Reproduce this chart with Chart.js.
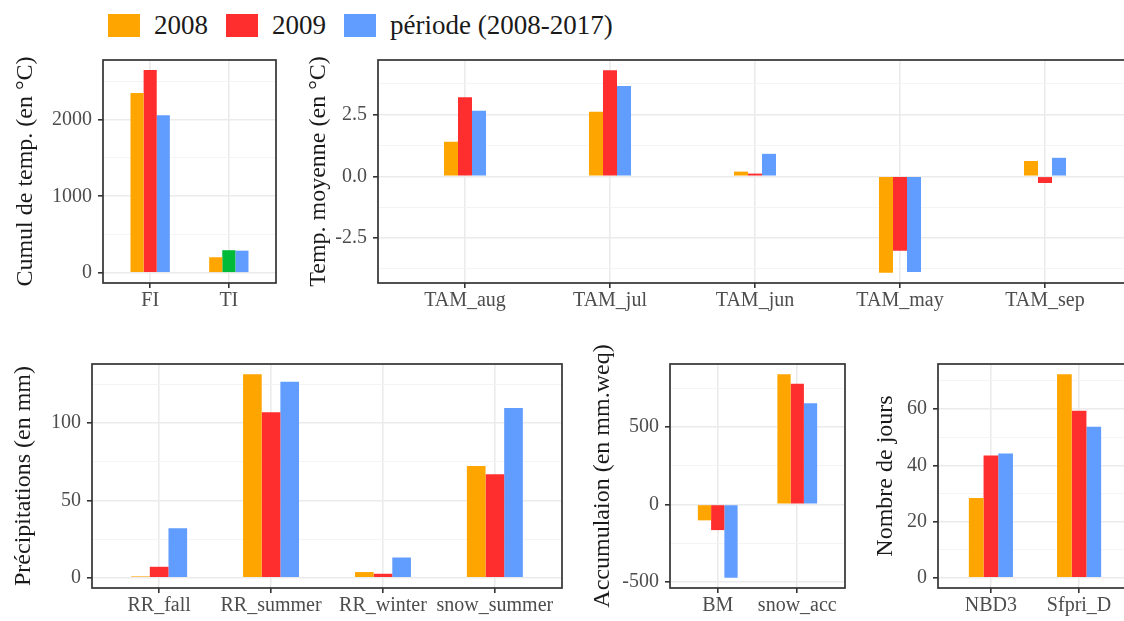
<!DOCTYPE html>
<html>
<head>
<meta charset="utf-8">
<script src="https://cdn.jsdelivr.net/npm/chart.js@4"></script>
<style>
  body { margin: 0; background: #fff; width: 1124px; height: 621px; overflow: hidden; position: relative; font-family: 'Liberation Serif', serif; }
  canvas { position: absolute; left: 0; top: 0; }
  #legend { position: absolute; left: 108px; top: 10px; display: flex; align-items: center; font-size: 27px; color: #1A1A1A; }
  #legend .key { width: 32px; height: 23px; margin-right: 14px; }
  #legend .lab { margin-right: 18px; }
</style>
</head>
<body>
<div id="legend"></div>
<canvas id="cumul" width="1200" height="621"></canvas>
<canvas id="tmoy" width="1200" height="621"></canvas>
<canvas id="precip" width="1200" height="621"></canvas>
<canvas id="accu" width="1200" height="621"></canvas>
<canvas id="jours" width="1200" height="621"></canvas>
<script>
// series
const seriesNames = ['2008', '2009', 'période (2008-2017)'];
const seriesColors = ['#FFA500', '#FF2E2E', '#619CFF'];
const highlightColor = '#00BA38';

// cumul de température
const cumulCats = ['FI', 'TI'];
const cumul2008 = [2347, 204];
const cumul2009 = [2646, 296];
const cumulPeriode = [2056, 290];
const cumulTicks = [0, 1000, 2000];
const cumulTickLabels = ['0', '1000', '2000'];

// température moyenne
const tmoyCats = ['TAM_aug', 'TAM_jul', 'TAM_jun', 'TAM_may', 'TAM_sep'];
const tmoy2008 = [1.40, 2.61, 0.19, -3.91, 0.62];
const tmoy2009 = [3.20, 4.30, 0.11, -3.01, -0.27];
const tmoyPeriode = [2.65, 3.66, 0.91, -3.87, 0.75];
const tmoyTicks = [-2.5, 0, 2.5];
const tmoyTickLabels = ['-2.5', '0.0', '2.5'];

// précipitations
const precipCats = ['RR_fall', 'RR_summer', 'RR_winter', 'snow_summer'];
const precip2008 = [0.9, 131.5, 3.7, 72.2];
const precip2009 = [7.1, 106.9, 2.6, 66.8];
const precipPeriode = [32.0, 126.7, 13.1, 109.7];
const precipTicks = [0, 50, 100];
const precipTickLabels = ['0', '50', '100'];

// accumulation
const accuCats = ['BM', 'snow_acc'];
const accu2008 = [-103, 841];
const accu2009 = [-166, 779];
const accuPeriode = [-474, 654];
const accuTicks = [-500, 0, 500];
const accuTickLabels = ['-500', '0', '500'];

// nombre de jours
const joursCats = ['NBD3', 'Sfpri_D'];
const jours2008 = [28.4, 72.4];
const jours2009 = [43.5, 59.4];
const joursPeriode = [44.2, 53.7];
const joursTicks = [0, 20, 40, 60];
const joursTickLabels = ['0', '20', '40', '60'];

const FONT = "'Liberation Serif', serif";
Chart.defaults.font.family = FONT;

// legend
const legend = document.getElementById('legend');
seriesNames.forEach((name, i) => {
    const k = document.createElement('span');
    k.className = 'key';
    k.style.background = seriesColors[i];
    const t = document.createElement('span');
    t.className = 'lab';
    t.textContent = name;
    legend.appendChild(k);
    legend.appendChild(t);
});

const panelBorder = {
    id: 'panelBorder',
    afterDraw(chart) {
        const { ctx, chartArea: a } = chart;
        ctx.save();
        ctx.strokeStyle = '#333333';
        ctx.lineWidth = 1.7;
        ctx.strokeRect(a.left, a.top, a.right - a.left, a.bottom - a.top);
        ctx.restore();
    }
};

function makePanel(id, cats, values, o) {
    const canvas = document.getElementById(id);
    const W = canvas.width, H = canvas.height;
    const step = o.ticks[1] - o.ticks[0];
    // major + minor breaks, as ggplot
    const breaks = [];
    for (let v = o.ticks[0] - step / 2; v <= o.max; v += step / 2) {
        if (v >= o.min) breaks.push(v);
    }
    const isMajor = v => o.ticks.some(t => Math.abs(t - v) < 1e-9);
    const axisLeft = o.titleX - 14.4;

    const datasets = values.map((vals, s) => ({
        label: seriesNames[s],
        data: vals.map((v, i) => ({ x: i + 1, y: v })),
        backgroundColor: vals.map((v, i) => (o.highlight && o.highlight[0] === s && o.highlight[1] === i) ? highlightColor : seriesColors[s]),
        borderWidth: 0,
        barPercentage: 1,
        categoryPercentage: o.groupWidth
    }));

    return new Chart(canvas, {
        type: 'bar',
        data: { datasets },
        options: {
            responsive: false,
            animation: false,
            layout: {
                autoPadding: false,
                padding: { left: axisLeft, top: o.box.top, right: W - o.box.right, bottom: H - o.box.bottom - 30 }
            },
            plugins: { legend: { display: false }, tooltip: { enabled: false } },
            scales: {
                x: {
                    type: 'linear',
                    min: 0.4,
                    max: cats.length + 0.6,
                    offset: false,
                    afterBuildTicks: s => { s.ticks = cats.map((c, i) => ({ value: i + 1 })); },
                    afterFit: s => { s.height = 30; s.paddingLeft = 0; s.paddingRight = 0; },
                    ticks: {
                        callback: v => cats[Math.round(v) - 1],
                        color: '#4D4D4D',
                        font: { size: 20 },
                        padding: 1,
                        maxRotation: 0,
                        autoSkip: false
                    },
                    grid: { offset: false, color: '#EBEBEB', lineWidth: 1.6, tickLength: 5, tickColor: '#333333', tickWidth: 1.6 },
                    border: { display: false }
                },
                y: {
                    type: 'linear',
                    min: o.min,
                    max: o.max,
                    afterBuildTicks: s => { s.ticks = breaks.map(v => ({ value: v })); },
                    afterFit: s => { s.width = o.box.left - axisLeft; s.paddingTop = 0; s.paddingBottom = 0; },
                    ticks: {
                        callback: v => {
                            const k = o.ticks.findIndex(t => Math.abs(t - v) < 1e-9);
                            return k >= 0 ? o.labels[k] : '';
                        },
                        color: '#4D4D4D',
                        font: { size: 20 },
                        padding: 6,
                        autoSkip: false
                    },
                    grid: {
                        color: c => isMajor(c.tick.value) ? '#EBEBEB' : '#F3F3F3',
                        lineWidth: c => isMajor(c.tick.value) ? 1.6 : 0.9,
                        tickLength: 5,
                        tickColor: c => isMajor(c.tick.value) ? '#333333' : 'rgba(0,0,0,0)',
                        tickWidth: 1.6
                    },
                    border: { display: false },
                    title: { display: true, text: o.title, color: '#1A1A1A', font: { size: 24 }, padding: 0 }
                }
            }
        },
        plugins: [panelBorder]
    });
}

makePanel('cumul', cumulCats, [cumul2008, cumul2009, cumulPeriode], {
    box: { left: 103, right: 276, top: 60, bottom: 283 }, titleX: 26,
    min: -132, max: 2778, ticks: cumulTicks, labels: cumulTickLabels,
    title: 'Cumul de temp. (en °C)', groupWidth: 0.5, highlight: [1, 1]
});
makePanel('tmoy', tmoyCats, [tmoy2008, tmoy2009, tmoyPeriode], {
    box: { left: 378, right: 1132, top: 60, bottom: 283 }, titleX: 319,
    min: -4.32, max: 4.71, ticks: tmoyTicks, labels: tmoyTickLabels,
    title: 'Temp. moyenne (en °C)', groupWidth: 0.29
});
makePanel('precip', precipCats, [precip2008, precip2009, precipPeriode], {
    box: { left: 92, right: 562, top: 364, bottom: 588 }, titleX: 24,
    min: -6.6, max: 138.1, ticks: precipTicks, labels: precipTickLabels,
    title: 'Précipitations (en mm)', groupWidth: 0.5
});
makePanel('accu', accuCats, [accu2008, accu2009, accuPeriode], {
    box: { left: 670, right: 845, top: 364, bottom: 588 }, titleX: 603,
    min: -540, max: 907, ticks: accuTicks, labels: accuTickLabels,
    title: 'Accumulaion (en mm.weq)', groupWidth: 0.5
});
makePanel('jours', joursCats, [jours2008, jours2009, joursPeriode], {
    box: { left: 938, right: 1132, top: 364, bottom: 588 }, titleX: 886,
    min: -3.6, max: 76, ticks: joursTicks, labels: joursTickLabels,
    title: 'Nombre de jours', groupWidth: 0.5
});
</script>
</body>
</html>
